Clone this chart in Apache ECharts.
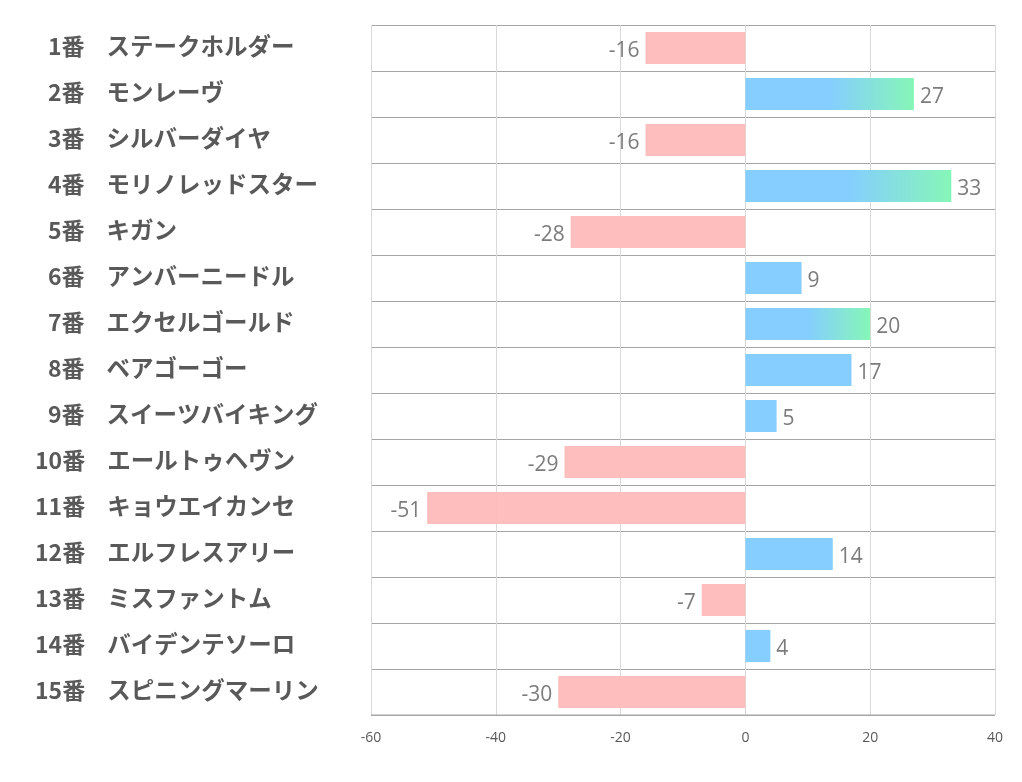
<!DOCTYPE html>
<html><head><meta charset="utf-8">
<script src="https://cdn.jsdelivr.net/npm/echarts@6/dist/echarts.min.js"></script>
<style>html,body{margin:0;padding:0;background:#fff}#c{width:1022px;height:782px}</style>
</head><body><div id="c"></div>
<script>
const numbers = ["1番","2番","3番","4番","5番","6番","7番","8番","9番","10番","11番","12番","13番","14番","15番"];
const names = ["ステークホルダー","モンレーヴ","シルバーダイヤ","モリノレッドスター","キガン","アンバーニードル","エクセルゴールド","ベアゴーゴー","スイーツバイキング","エールトゥヘヴン","キョウエイカンセ","エルフレスアリー","ミスファントム","バイデンテソーロ","スピニングマーリン"];
const values = [-16,27,-16,33,-28,9,20,17,5,-29,-51,14,-7,4,-30];
const xTicks = [-60,-40,-20,0,20,40];

const categories = numbers.map((n,i)=>n+"|"+names[i]);
const blue = '#7ecbff', green = '#7ff5b3', pink = '#ffbbbb';
const data = values.map(v=>{
  let color;
  if (v < 0) color = pink;
  else if (v >= 20) color = {type:'linear',x:0,y:0,x2:1,y2:0,colorStops:[{offset:0,color:blue},{offset:0.5,color:blue},{offset:1,color:green}]};
  else color = blue;
  return {value:v, itemStyle:{color:color, opacity:0.95},
    label:{show:true, position: v<0?'left':'right'}};
});

const labelFont = {fontWeight:'bold',color:'#595959',fontFamily:'Noto Sans CJK JP, sans-serif'};
const chart = echarts.init(document.getElementById('c'));
chart.setOption({
  animation:false,
  grid:{left:371,right:27,top:25,bottom:67,containLabel:false},
  xAxis:{type:'value',min:xTicks[0],max:xTicks[xTicks.length-1],interval:20,
    axisLine:{show:false},axisTick:{show:false},
    axisLabel:{color:'#595959',fontSize:14,fontFamily:'Open Sans, Noto Sans, sans-serif',margin:16},
    splitLine:{show:true,lineStyle:{color:'#d9d9d9',width:1}}},
  yAxis:{type:'category',data:categories,inverse:true,
    axisLine:{show:true,lineStyle:{color:'#d9d9d9'}},axisTick:{show:false},
    splitLine:{show:true,lineStyle:{color:'#a6a6a6',width:1}},
    axisLabel:{align:'left',margin:336,
      formatter:function(v){const p=v.split('|');const k=p[0].length>2?'a2':'a1';return '{'+k+'|'+p[0]+'}{b|'+p[1]+'}';},
      rich:{
        a1:Object.assign({fontSize:23,padding:[0,0,3,13]},labelFont),
        a2:Object.assign({fontSize:23,padding:[0,0,3,0]},labelFont),
        b:Object.assign({fontSize:23.5,padding:[0,0,3,22]},labelFont)
      }}},
  series:[{type:'bar',data:data,barCategoryGap:'30%',
    label:{show:true,color:'#757575',fontSize:21,distance:6,offset:[0,3],fontFamily:'Open Sans, Noto Sans, sans-serif'}}],
  graphic:[{type:'line',shape:{x1:371,y1:715,x2:995,y2:715},style:{stroke:'#a6a6a6',lineWidth:1},z:10}]
});
</script></body></html>
